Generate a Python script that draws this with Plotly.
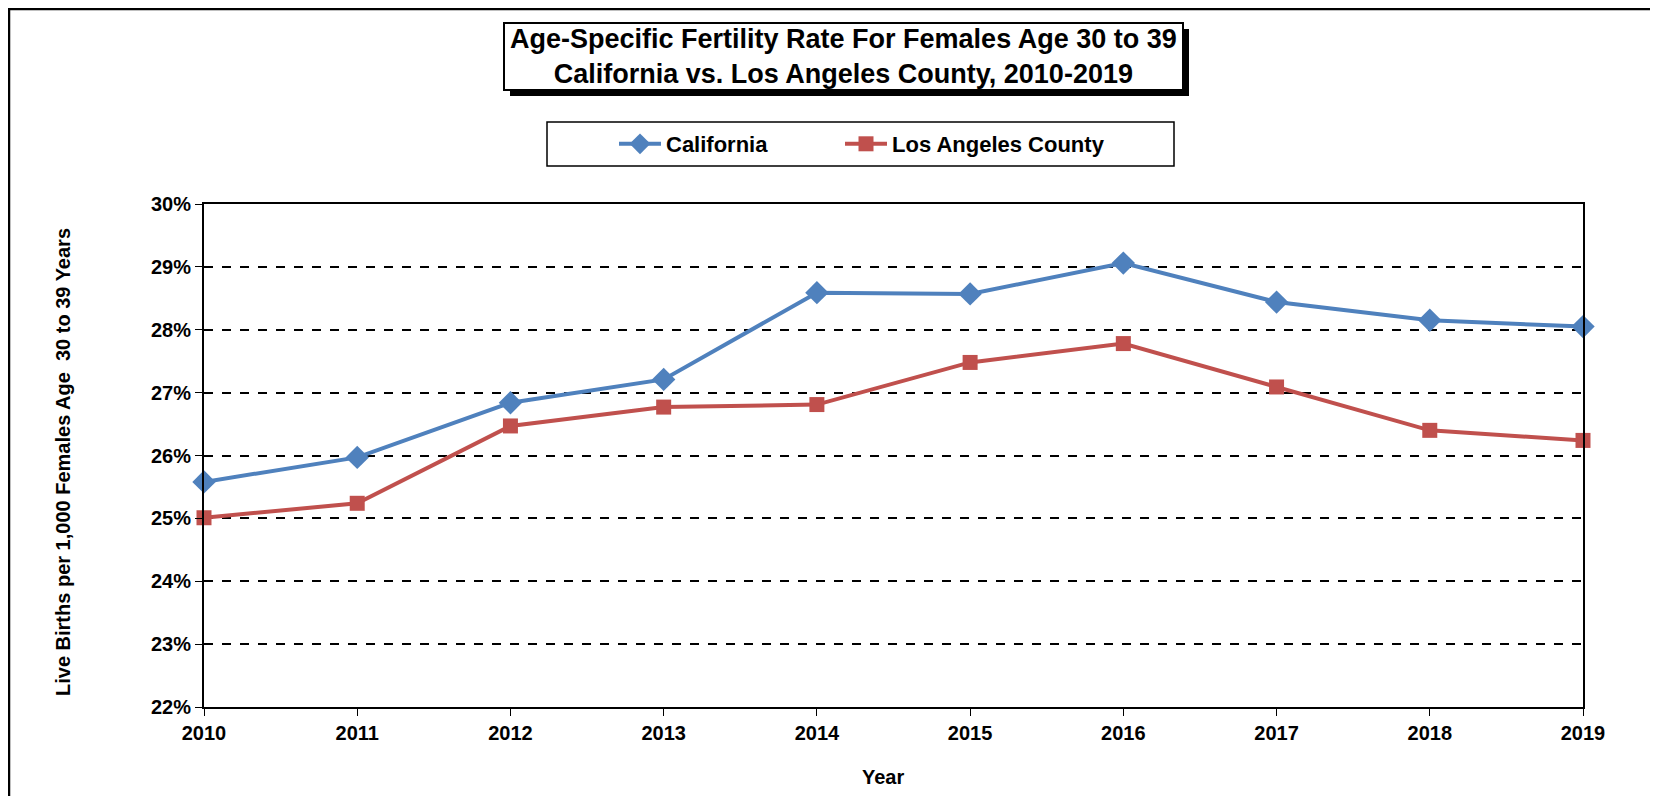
import plotly.graph_objects as go

years = [2010, 2011, 2012, 2013, 2014, 2015, 2016, 2017, 2018, 2019]
california = [25.58, 25.97, 26.84, 27.21, 28.59, 28.57, 29.06, 28.44, 28.15, 28.05]
los_angeles = [25.01, 25.24, 26.47, 26.77, 26.81, 27.48, 27.78, 27.09, 26.40, 26.24]
y_ticks = [22, 23, 24, 25, 26, 27, 28, 29, 30]

FONT = 'Arial, Liberation Sans, sans-serif'
BLUE = '#4F81BD'
RED = '#C0504D'

# the page puts the figure 8px in from the window corner
OFF = 8
W, H = 1658, 796
L, R, T, B = 204 - OFF, 1658 - 1583 + OFF, 204 - OFF, 796 - 707 + OFF
PW, PH = W - L - R, H - T - B


def px(x):
    return (x - OFF - L) / PW


def py(y):
    return (H - B - (y - OFF)) / PH


fig = go.Figure()

fig.add_trace(go.Scatter(
    x=years, y=california, name='California',
    mode='lines+markers',
    line=dict(color=BLUE, width=4),
    marker=dict(symbol='diamond', size=18, color=BLUE),
    cliponaxis=False, legend='legend'
))
fig.add_trace(go.Scatter(
    x=years, y=los_angeles, name='Los Angeles County',
    mode='lines+markers',
    line=dict(color=RED, width=4),
    marker=dict(symbol='square', size=15, color=RED),
    cliponaxis=False, legend='legend2'
))

shapes = [
    # outer frame (right and bottom sides run off the page)
    dict(type='rect', xref='paper', yref='paper',
         x0=px(9), x1=px(1720), y0=py(870), y1=py(9),
         line=dict(color='black', width=2.5), layer='below'),
    # title shadow + box
    dict(type='rect', xref='paper', yref='paper',
         x0=px(510), x1=px(1189), y0=py(96), y1=py(29),
         line=dict(width=0), fillcolor='black'),
    dict(type='rect', xref='paper', yref='paper',
         x0=px(504), x1=px(1183), y0=py(90), y1=py(23),
         line=dict(color='black', width=2), fillcolor='white'),
    # legend box
    dict(type='rect', xref='paper', yref='paper',
         x0=px(547), x1=px(1174), y0=py(166), y1=py(122),
         line=dict(color='black', width=1.5), fillcolor='white', layer='below'),
]

annotations = [
    dict(text='<b>Age-Specific Fertility Rate For Females Age 30 to 39<br>'
              'California vs. Los Angeles County, 2010-2019</b>',
         xref='paper', yref='paper', x=px(843), y=py(57),
         xanchor='center', yanchor='middle', showarrow=False,
         font=dict(family=FONT, size=27, color='black')),
    dict(text='<b>Live Births per 1,000 Females Age  30 to 39 Years</b>',
         xref='paper', yref='paper', x=px(63), y=py(462),
         xanchor='center', yanchor='middle', textangle=-90, showarrow=False,
         font=dict(family=FONT, size=20, color='black')),
    dict(text='<b>Year</b>',
         xref='paper', yref='paper', x=px(883), y=py(777),
         xanchor='center', yanchor='middle', showarrow=False,
         font=dict(family=FONT, size=20, color='black')),
]

legend_style = dict(orientation='h', y=py(144), xanchor='left', yanchor='middle',
                    bgcolor='rgba(0,0,0,0)', borderwidth=0, itemwidth=42,
                    font=dict(family=FONT, size=22, color='black', weight='bold'))

fig.update_layout(
    width=W, height=H,
    margin=dict(l=L, r=R, t=T, b=B),
    paper_bgcolor='white', plot_bgcolor='white',
    font=dict(family=FONT, color='black'),
    shapes=shapes,
    annotations=annotations,
    showlegend=True,
    legend=dict(legend_style, x=px(614)),
    legend2=dict(legend_style, x=px(840)),
    xaxis=dict(range=[2010, 2019], tickmode='array', tickvals=years,
               ticktext=['<b>%d</b>' % y for y in years],
               tickfont=dict(size=20), ticks='outside', ticklen=7,
               tickcolor='black', showline=True, linecolor='black',
               linewidth=2, mirror=True, showgrid=False, zeroline=False),
    yaxis=dict(range=[22, 30], tickmode='array', tickvals=y_ticks,
               ticktext=['<b>%d%%</b>' % v for v in y_ticks],
               tickfont=dict(size=20), ticks='outside', ticklen=7,
               tickcolor='black', showline=True, linecolor='black',
               linewidth=2, mirror=True, showgrid=True, gridcolor='black',
               gridwidth=1.5, griddash='dash', zeroline=False),
)

fig.write_html("out.html")
